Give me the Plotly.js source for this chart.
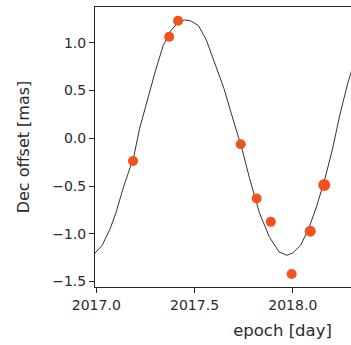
<!DOCTYPE html>
<html>
<head>
<meta charset="utf-8">
<script src="https://cdn.plot.ly/plotly-3.0.1.min.js"></script>
<style>
html,body{margin:0;padding:0;overflow:hidden;background:#fff;width:351px;height:345px;}
#chart{width:470px;height:345px;}
</style>
</head>
<body>
<div id="chart"></div>
<script>
// Observed data points
const obsEpoch = [2017.187, 2017.371, 2017.416, 2017.735, 2017.816, 2017.888, 2017.994, 2018.089, 2018.160];
const obsDec   = [-0.238, 1.063, 1.231, -0.063, -0.630, -0.875, -1.420, -0.973, -0.490];
const obsSize  = [10, 10, 10, 10, 10, 10, 10, 11, 12];

// Model curve
const modelEpoch = [2016.99, 2017.03, 2017.07, 2017.10, 2017.14, 2017.19, 2017.22, 2017.26, 2017.30, 2017.34,
                    2017.38, 2017.42, 2017.45, 2017.48, 2017.52, 2017.56, 2017.60, 2017.65, 2017.70, 2017.74,
                    2017.78, 2017.83, 2017.88, 2017.93, 2017.97, 2018.00, 2018.04, 2018.08, 2018.12, 2018.16,
                    2018.20, 2018.24, 2018.28, 2018.31];
const modelDec   = [-1.21, -1.12, -0.95, -0.78, -0.50, -0.20, 0.10, 0.40, 0.70, 0.97,
                    1.13, 1.22, 1.24, 1.23, 1.18, 1.03, 0.80, 0.52, 0.17, -0.10,
                    -0.42, -0.78, -1.03, -1.19, -1.225, -1.20, -1.12, -0.95, -0.72, -0.45,
                    -0.13, 0.25, 0.58, 0.78];

const xTicks = [2017.0, 2017.5, 2018.0];
const yTicks = [-1.5, -1.0, -0.5, 0.0, 0.5, 1.0];

const font = {family: 'DejaVu Sans, sans-serif', color: '#2a2a2a'};

Plotly.newPlot('chart', [
  {x: modelEpoch, y: modelDec, type: 'scatter', mode: 'lines',
   line: {color: '#333', width: 1}, hoverinfo: 'skip', showlegend: false},
  {x: obsEpoch, y: obsDec, type: 'scatter', mode: 'markers', opacity: 1,
   marker: {color: '#f4511e', opacity: 1, size: obsSize, line: {width: 0}}, showlegend: false}
], {
  width: 470, height: 345,
  margin: {l: 95, r: 0, t: 7, b: 58, pad: 0},
  paper_bgcolor: '#fff', plot_bgcolor: '#fff',
  font: Object.assign({size: 14}, font),
  xaxis: {
    range: [2016.9934, 2018.9018],
    tickvals: xTicks, tickformat: '.1f',
    ticks: 'outside', ticklen: 5, tickcolor: '#222', tickwidth: 1,
    showline: true, linecolor: '#222', linewidth: 1, mirror: true,
    showgrid: false, zeroline: false,
    tickfont: Object.assign({size: 14}, font),
    title: {text: 'epoch [day]', font: Object.assign({size: 16.5}, font), standoff: 12}
  },
  yaxis: {
    range: [-1.557, 1.375],
    tickvals: yTicks, tickformat: '.1f',
    ticks: 'outside', ticklen: 5, tickcolor: '#222', tickwidth: 1,
    showline: true, linecolor: '#222', linewidth: 1, mirror: true,
    showgrid: false, zeroline: false,
    tickfont: Object.assign({size: 14}, font),
    title: {text: 'Dec offset [mas]', font: Object.assign({size: 16}, font), standoff: 18}
  }
}, {displayModeBar: false, staticPlot: true});
</script>
</body>
</html>
